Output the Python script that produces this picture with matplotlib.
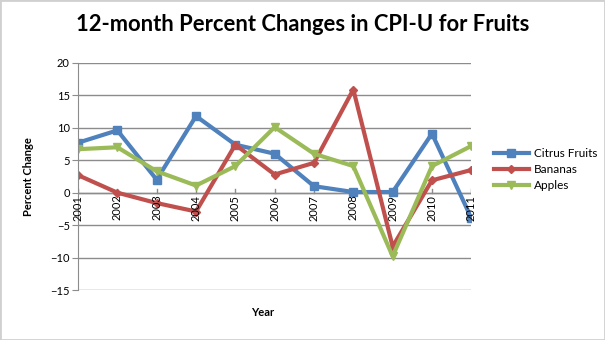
import numpy as np
import matplotlib
matplotlib.use("Agg")
import matplotlib.pyplot as plt

years = ["2001", "2002", "2003", "2004", "2005", "2006", "2007", "2008", "2009", "2010", "2011"]
citrus = [7.7, 9.6, 2.0, 11.8, 7.4, 6.0, 1.0, 0.1, 0.1, 9.1, -3.9]
bananas = [2.7, 0.0, -1.6, -2.9, 7.4, 2.8, 4.6, 15.9, -8.3, 1.9, 3.5]
apples = [6.7, 7.0, 3.3, 1.1, 4.1, 10.1, 6.0, 4.1, -9.8, 4.1, 7.2]

plt.rcParams['font.family'] = ['Lato', 'DejaVu Sans']

fig = plt.figure(figsize=(6.05, 3.4), dpi=100)
fig.patch.set_facecolor('white')
ax = fig.add_axes([0.129, 0.147, 0.65, 0.668])

x = np.arange(len(years))
ax.plot(x, citrus, color='#4F81BD', lw=3, marker='s', ms=6, label='Citrus Fruits')
ax.plot(x, bananas, color='#C0504D', lw=3, marker='D', ms=4, label='Bananas')
ax.plot(x, apples, color='#9BBB59', lw=3, marker='v', ms=6, label='Apples')

ax.set_xlim(0, len(years) - 1)
ax.set_ylim(-15, 20)
ax.set_yticks(range(-15, 21, 5))
ax.yaxis.grid(True, color='#8c8c8c', lw=1)
ax.set_axisbelow(True)
for s in ['top', 'right', 'bottom']:
    ax.spines[s].set_visible(False)
ax.spines['left'].set_color('#8c8c8c')
ax.axhline(0, color='#8c8c8c', lw=1, zorder=1)

ax.set_xticks(x)
ax.set_xticklabels([])
ax.tick_params(axis='x', length=0)
for i, yr in enumerate(years):
    ax.plot([i, i], [0, 0.6], color='#8c8c8c', lw=1, zorder=1)
    ax.text(i, -0.3, yr, rotation=90, ha='center', va='top', fontsize=8)
ax.tick_params(axis='y', labelsize=8, length=4, color='#8c8c8c', pad=2)

ax.set_ylabel("Percent Change", fontsize=8, fontweight='bold', labelpad=12)
ax.set_xlabel("Year", fontsize=8, fontweight='bold')
ax.xaxis.set_label_coords(0.47, -0.075)

fig.suptitle("12-month Percent Changes in CPI-U for Fruits", fontsize=15.8, fontweight='bold', x=0.5, y=0.96)

ax.legend(loc='center left', bbox_to_anchor=(1.03, 0.53), frameon=False, fontsize=8.5,
          handlelength=3, labelspacing=0.45, handletextpad=0.4)

fig.patches.append(plt.Rectangle((0, 0), 1, 1, transform=fig.transFigure, fill=False,
                                 edgecolor='#d0d0d0', lw=2))
fig.savefig("out.png", dpi=100)
